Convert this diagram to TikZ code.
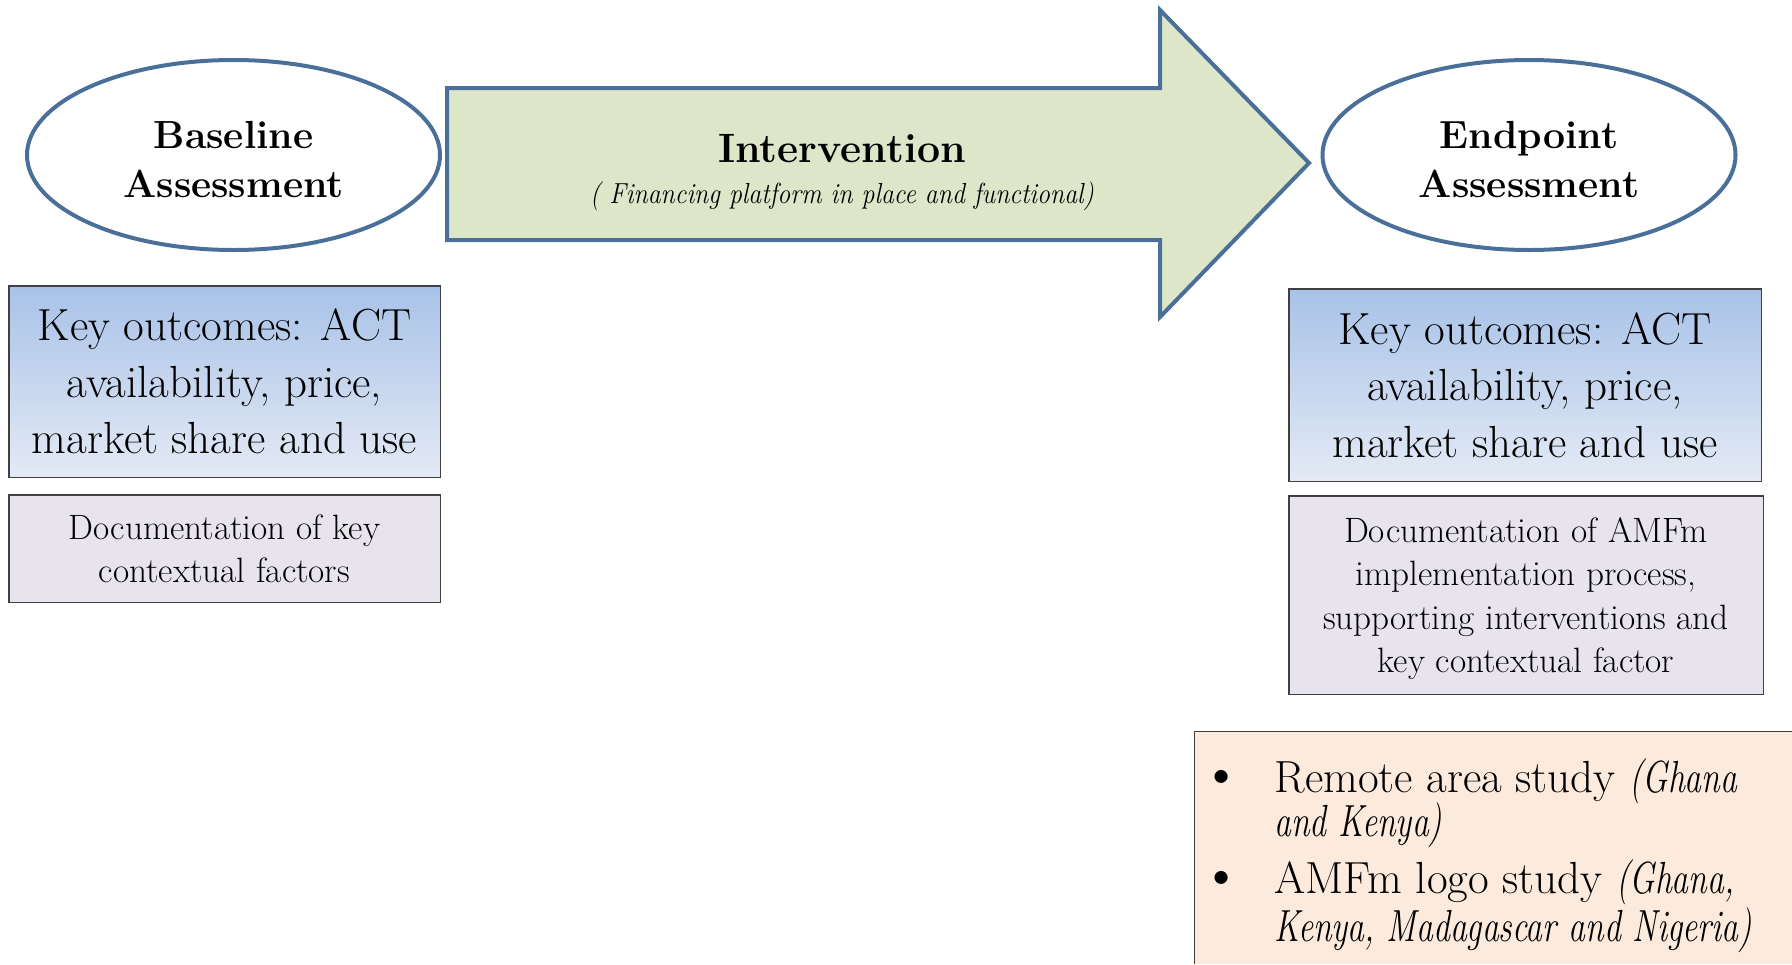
\documentclass[tikz,border=0pt]{standalone}
\usepackage{fontspec}
\usepackage{graphicx}
\usetikzlibrary{shapes.geometric}
\definecolor{ellblue}{HTML}{4A709A}
\definecolor{arrowfill}{HTML}{DDE6C8}
\definecolor{bluetop}{HTML}{A8C2E8}
\definecolor{bluebot}{HTML}{E4EAF5}
\definecolor{docfill}{HTML}{E8E4EE}
\definecolor{peach}{HTML}{FCEADC}
\definecolor{boxborder}{HTML}{404040}
\newcommand\narrowit[2][0.75]{\scalebox{#1}[1]{\itshape #2}}
\begin{document}
\begin{tikzpicture}[x=0.5pt,y=-0.5pt,
  oval/.style={ellipse, draw=ellblue, line width=2pt, fill=white, inner sep=0pt,
    minimum width=206.5pt, minimum height=95pt},
  ovaltext/.style={inner sep=0pt, align=center,
    font=\fontsize{19.6}{24.5}\selectfont\bfseries},
  keybox/.style={rectangle, draw=boxborder, line width=0.75pt, top color=bluetop,
    bottom color=bluebot, inner sep=0pt, align=center, text depth=0pt,
    font=\fontsize{22.5}{28.25}\selectfont},
  docbox/.style={rectangle, draw=boxborder, line width=0.75pt, fill=docfill,
    inner sep=0pt, align=center, text depth=0pt, font=\fontsize{17.6}{21.75}\selectfont},
  bultext/.style={inner sep=0pt, font=\fontsize{22.5}{26}\selectfont},
  title/.style={inner sep=0pt, font=\fontsize{20.5}{24}\selectfont\bfseries},
  subtitle/.style={inner sep=0pt, font=\fontsize{14.5}{18}\selectfont}
]
\useasboundingbox (0,0) rectangle (1792,964);

% big arrow
\draw[ellblue, line width=2pt, fill=arrowfill, line join=miter]
  (447,88) -- (1160,88) -- (1160,10) -- (1309,163) -- (1160,317) -- (1160,240) -- (447,240) -- cycle;
\node[title, anchor=base] (interv) at (842,162) {Intervention};
\node[subtitle, anchor=base] (fin) at (842,203) {\narrowit[0.89]{( Financing platform in place and functional)}};

% ellipses
\node[oval] (base) at (233.5,155) {};
\node[ovaltext, anchor=base] (baset) at (233.5,148) {Baseline};
\node[ovaltext, anchor=base] (baset2) at (233.5,197) {Assessment};
\node[oval] (endp) at (1529,155) {};
\node[ovaltext, anchor=base] (endt) at (1529,148) {Endpoint};
\node[ovaltext, anchor=base] (endt2) at (1529,197) {Assessment};

% left boxes
\node[keybox, minimum width=215.75pt, minimum height=95.75pt] (keyL) at (224.5,381.5)
  {Key outcomes: ACT\\availability, price,\\market share and use};
\node[docbox, minimum width=215.75pt, minimum height=53.75pt] (docL) at (224.5,548.5)
  {Documentation of key\\contextual factors};

% right boxes
\node[keybox, minimum width=236.25pt, minimum height=96.25pt] (keyR) at (1525,385)
  {Key outcomes: ACT\\availability, price,\\market share and use};
\node[docbox, minimum width=237.25pt, minimum height=99.25pt] (docR) at (1526,595)
  {Documentation of AMFm\\implementation process,\\supporting interventions and\\key contextual factor};

% bottom studies box
\fill[peach] (1194,731) rectangle (1792,964);
\draw[boxborder, line width=0.75pt] (1194.4,964) -- (1194.4,731.4) -- (1792,731.4);
\node[bultext, anchor=base] (b1) at (1222,792) {\scalebox{1.3}{\textbullet}};
\node[bultext, anchor=base] (b2) at (1222,893) {\scalebox{1.3}{\textbullet}};
\node[bultext, anchor=base west] (r1) at (1274,792) {Remote area study \narrowit{(Ghana}};
\node[bultext, anchor=base west] (r2) at (1274,836) {\narrowit{and Kenya)}};
\node[bultext, anchor=base west] (a1) at (1274,893) {AMFm logo study \narrowit{(Ghana,}};
\node[bultext, anchor=base west] (a2) at (1274,941) {\narrowit{Kenya, Madagascar and Nigeria)}};
\end{tikzpicture}
\end{document}
